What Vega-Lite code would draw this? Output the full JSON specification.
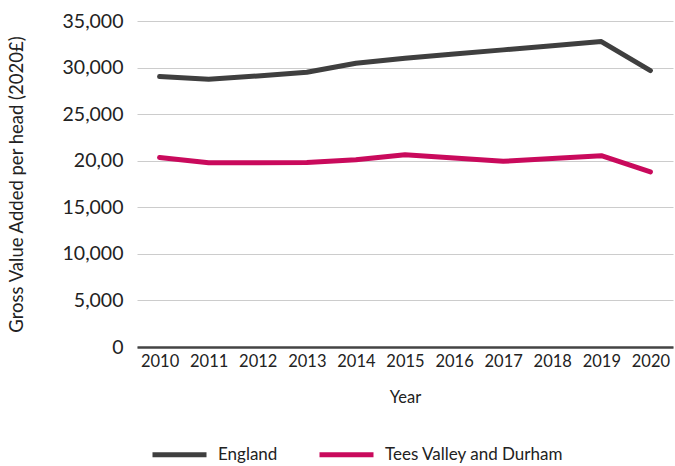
{
  "$schema": "https://vega.github.io/schema/vega-lite/v6.json",
  "width": 536,
  "height": 326,
  "autosize": {"type": "none"},
  "padding": {"left": 137, "top": 21, "right": 2, "bottom": 119},
  "background": "white",
  "config": {
    "view": {"stroke": null},
    "font": "Lato",
    "axis": {"labelFont": "Lato", "titleFont": "Lato", "labelColor": "#222222", "titleColor": "#222222", "titleFontWeight": "normal"}
  },
  "data": {
    "values": [
      {"Year": "2010", "Region": "England", "GVA": 29030},
      {"Year": "2011", "Region": "England", "GVA": 28750},
      {"Year": "2012", "Region": "England", "GVA": 29100},
      {"Year": "2013", "Region": "England", "GVA": 29500},
      {"Year": "2014", "Region": "England", "GVA": 30460},
      {"Year": "2015", "Region": "England", "GVA": 31000},
      {"Year": "2016", "Region": "England", "GVA": 31450},
      {"Year": "2017", "Region": "England", "GVA": 31900},
      {"Year": "2018", "Region": "England", "GVA": 32350},
      {"Year": "2019", "Region": "England", "GVA": 32790},
      {"Year": "2020", "Region": "England", "GVA": 29680},
      {"Year": "2010", "Region": "Tees Valley and Durham", "GVA": 20350},
      {"Year": "2011", "Region": "Tees Valley and Durham", "GVA": 19790},
      {"Year": "2012", "Region": "Tees Valley and Durham", "GVA": 19790},
      {"Year": "2013", "Region": "Tees Valley and Durham", "GVA": 19800},
      {"Year": "2014", "Region": "Tees Valley and Durham", "GVA": 20100},
      {"Year": "2015", "Region": "Tees Valley and Durham", "GVA": 20640},
      {"Year": "2016", "Region": "Tees Valley and Durham", "GVA": 20280},
      {"Year": "2017", "Region": "Tees Valley and Durham", "GVA": 19930},
      {"Year": "2018", "Region": "Tees Valley and Durham", "GVA": 20230},
      {"Year": "2019", "Region": "Tees Valley and Durham", "GVA": 20540},
      {"Year": "2020", "Region": "Tees Valley and Durham", "GVA": 18790}
    ]
  },
  "mark": {"type": "line", "strokeWidth": 5, "strokeCap": "round", "strokeJoin": "round"},
  "encoding": {
    "x": {
      "field": "Year", "type": "ordinal",
      "scale": {"type": "point", "padding": 0.46},
      "axis": {
        "title": "Year", "titleFontSize": 16.5, "titlePadding": 20,
        "labelFontSize": 16.5, "labelAngle": 0, "labelPadding": 6,
        "ticks": false, "grid": false,
        "domain": true, "domainColor": "#444444", "domainWidth": 2.5
      }
    },
    "y": {
      "field": "GVA", "type": "quantitative",
      "scale": {"domain": [0, 35000], "nice": false},
      "axis": {
        "title": "Gross Value Added per head (2020£)", "titleFontSize": 18.5, "titlePadding": 36,
        "values": [0, 5000, 10000, 15000, 20000, 25000, 30000, 35000],
        "labelExpr": "replace(datum.label, '20,000', '20,00')",
        "labelFontSize": 19.5, "labelPadding": 14,
        "ticks": false, "domain": false,
        "grid": true, "gridColor": "#cccccc", "gridWidth": 1
      }
    },
    "color": {
      "field": "Region", "type": "nominal",
      "scale": {"domain": ["England", "Tees Valley and Durham"], "range": ["#3f3f3f", "#c90a5c"]},
      "legend": {
        "title": null, "orient": "none", "direction": "horizontal",
        "legendX": 13, "legendY": 404,
        "symbolType": "stroke", "symbolSize": 2916, "symbolStrokeWidth": 5,
        "labelFontSize": 17, "labelFont": "Lato", "labelColor": "#222222", "labelLimit": 400,
        "labelOffset": 9, "columnPadding": 31
      }
    }
  }
}
